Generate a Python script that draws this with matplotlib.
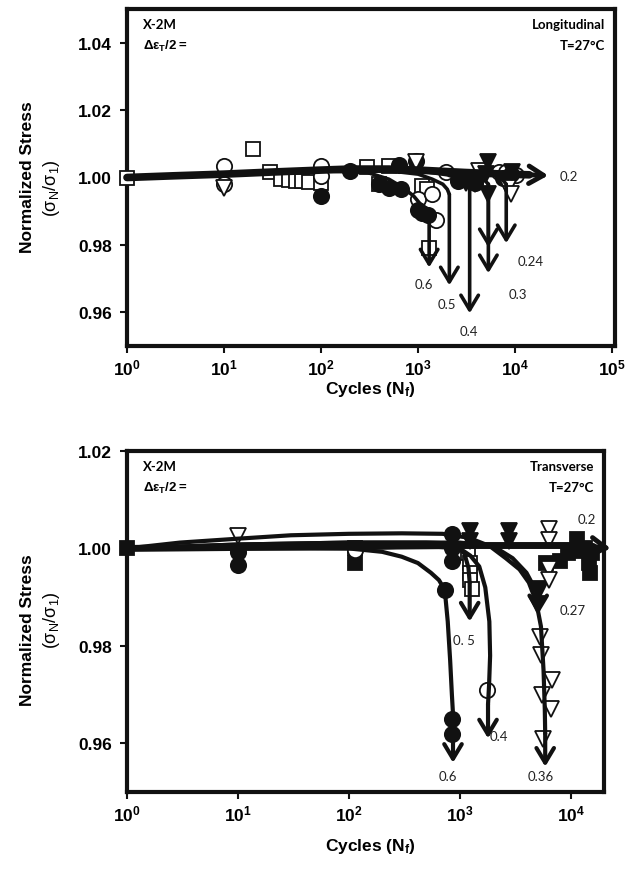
import matplotlib
matplotlib.use('Agg')
import matplotlib.pyplot as plt
from matplotlib.ticker import FixedLocator, FixedFormatter, NullLocator

plt.rcParams['font.family'] = ['Liberation Sans', 'DejaVu Sans']
plt.rcParams['mathtext.fontset'] = 'custom'
plt.rcParams['mathtext.rm'] = 'Liberation Sans'
plt.rcParams['mathtext.bf'] = 'Liberation Sans:bold'
plt.rcParams['mathtext.it'] = 'Liberation Sans:italic'
plt.rcParams['mathtext.fallback'] = 'stixsans'

# ================= Longitudinal (top panel) =================
L_open_sq_N = [1, 20, 30, 39, 47, 55, 64, 75, 100, 300, 400, 500, 1100, 1250, 1300]
L_open_sq_S = [1.000, 1.0086, 1.0015, 0.9997, 0.9993, 0.9991, 0.999, 0.9988, 0.9985,
               1.003, 0.998, 1.0035, 0.9975, 0.9965, 0.979]
L_open_circ_N = [10, 10, 100, 100, 1000, 1400, 1530, 1950, 6800, 8100, 10200]
L_open_circ_S = [1.0035, 0.998, 1.0035, 1.0005, 0.9935, 0.9950, 0.9875, 1.0015, 1.0015, 1.0015, 1.0006]
L_fill_circ_N = [100, 200, 400, 500, 630, 670, 950, 1000, 1100, 1270, 2600, 3900, 7500, 9000]
L_fill_circ_S = [0.9945, 1.002, 0.998, 0.997, 1.0038, 0.9967, 1.005, 0.9905, 0.9896, 0.989,
                 0.999, 0.9985, 1.0, 1.001]
L_open_tri_N = [10, 950, 4200, 8500, 9000]
L_open_tri_S = [0.997, 1.0045, 1.002, 0.997, 0.995]
L_fill_tri_N = [2600, 3100, 3900, 5000, 5300, 5300, 9200]
L_fill_tri_S = [1.0, 0.9985, 0.998, 1.001, 1.0045, 0.995, 1.0015]

# trend curves (knots) per strain amplitude
L_c02_N = [1, 3, 10, 30, 100, 200, 500, 1000, 3000, 8000, 14000, 21900]
L_c02_S = [1.000, 1.0005, 1.001, 1.0016, 1.0022, 1.0025, 1.0025, 1.0022, 1.0015, 1.001, 1.0008, 1.0006]
L_c06_N = [1, 10, 100, 300, 500, 700, 900, 1100, 1250, 1300]
L_c06_S = [1.000, 1.001, 1.002, 1.0015, 0.9995, 0.997, 0.9945, 0.9915, 0.989, 0.988]
L_c05_N = [1, 10, 100, 500, 1000, 1400, 1800, 2000, 2100]
L_c05_S = [1.000, 1.001, 1.002, 1.002, 1.001, 0.9995, 0.998, 0.9965, 0.995]
L_c04_N = [1, 10, 100, 1000, 2000, 2700, 3200, 3400]
L_c04_S = [1.000, 1.001, 1.002, 1.002, 1.0008, 0.9995, 0.998, 0.997]
L_c03_N = [1, 100, 1000, 3000, 4300, 5000, 5300]
L_c03_S = [1.000, 1.002, 1.002, 1.0012, 1.0, 0.9988, 0.998]
L_c024_N = [1, 100, 1000, 4000, 6500, 7600, 8100]
L_c024_S = [1.000, 1.002, 1.002, 1.0014, 1.0005, 0.999, 0.998]

# downward failure arrows: N, start, end
L_arrow_N = [1300, 2100, 3400, 5300, 5300, 8100]
L_arrow_start = [0.988, 0.995, 0.997, 0.998, 0.998, 0.998]
L_arrow_end = [0.9733, 0.968, 0.9597, 0.9793, 0.9716, 0.9805]

L_labels = ['0.2', '0.24', '0.3', '0.4', '0.5', '0.6']
L_label_N = [36000, 14300, 10700, 3300, 2000, 1150]
L_label_S = [1.0005, 0.9751, 0.9654, 0.9545, 0.9625, 0.9685]

# ================= Transverse (bottom panel) =================
T_fill_sq_N = [1, 113, 6000, 8000, 9500, 11500, 12500, 13500, 14500, 15000, 15500]
T_fill_sq_S = [1.000, 0.9971, 0.997, 0.9975, 0.999, 1.002, 0.9995, 1.0, 0.997, 0.995, 0.999]
T_open_sq_N = [113, 1200, 1250, 1250, 1250, 1280]
T_open_sq_S = [1.000, 0.999, 0.997, 0.995, 0.9935, 0.9916]
T_open_circ_N = [113, 1750]
T_open_circ_S = [0.9997, 0.971]
T_fill_circ_N = [10, 10, 860, 860, 860, 733, 860, 860]
T_fill_circ_S = [0.9993, 0.9965, 1.003, 1.0, 0.9975, 0.9915, 0.965, 0.962]
T_fill_tri_N = [1230, 1230, 2800, 2800, 5300, 5000]
T_fill_tri_S = [1.0035, 1.0015, 1.0035, 1.0015, 0.9916, 0.9885]
T_open_tri_N = [10, 6450, 6450, 6450, 6450, 5250, 5400, 6760, 5500, 6600, 5600]
T_open_tri_S = [1.0025, 1.0039, 1.0018, 0.9957, 0.9936, 0.9819, 0.9782, 0.973, 0.970, 0.967, 0.9608]

T_c02_N = [1, 10, 100, 1000, 10000, 16000, 23000]
T_c02_S = [1.000, 1.0002, 1.0004, 1.0006, 1.0006, 1.0004, 1.000]
T_c06_N = [1, 10, 100, 200, 300, 420, 550, 650, 733, 780, 820, 850, 870]
T_c06_S = [1.000, 1.0003, 1.000, 0.9993, 0.9983, 0.997, 0.995, 0.9935, 0.9915, 0.985, 0.977, 0.970, 0.966]
T_c05_N = [1, 10, 100, 500, 900, 1100, 1200, 1230]
T_c05_S = [1.000, 1.0008, 1.0012, 1.0012, 1.001, 0.999, 0.996, 0.993]
T_c04_N = [1, 10, 100, 500, 1000, 1250, 1500, 1700, 1850, 1880, 1840, 1800]
T_c04_S = [1.000, 1.000, 1.000, 1.0005, 1.000, 0.9985, 0.9963, 0.992, 0.985, 0.978, 0.972, 0.968]
T_c036_N = [1, 3, 10, 30, 100, 300, 700, 1200, 1860, 2600, 3460, 4200, 4900, 5400, 5700, 5850, 5900]
T_c036_S = [1.000, 1.0012, 1.002, 1.0027, 1.003, 1.0031, 1.003, 1.0022, 1.0005, 0.998, 0.9957,
            0.993, 0.989, 0.984, 0.975, 0.967, 0.962]
T_c027_N = [1, 10, 100, 1000, 2000, 3000, 4000, 4700, 5100]
T_c027_S = [1.000, 1.0008, 1.0012, 1.0012, 1.0005, 0.998, 0.995, 0.992, 0.990]

T_arrow_N = [870, 1230, 1800, 5900, 5100]
T_arrow_start = [0.966, 0.993, 0.968, 0.962, 0.990]
T_arrow_end = [0.956, 0.985, 0.961, 0.9552, 0.9865]

T_labels = ['0.2', '0.27', '0.36', '0.4', '0. 5', '0.6']
T_label_N = [14000, 10500, 5400, 2250, 1100, 780]
T_label_S = [1.006, 0.9873, 0.9532, 0.9614, 0.9813, 0.9532]

# ================= drawing =================
fig = plt.figure(figsize=(6.39, 8.70), dpi=100)
W, H = 639.0, 870.0


def px_axes(l, t, r, b):
    return fig.add_axes([l / W, 1 - b / H, (r - l) / W, (b - t) / H])


axT = px_axes(127, 10, 615, 347)
axB = px_axes(127, 452, 604, 793)

MEW = 1.3


def markers(ax, N, S, marker, filled):
    ax.plot(N, S, linestyle='none', marker=marker, ms=11 if marker != 's' else 10,
            mfc='#111111' if filled else 'white', mec='#111111', mew=MEW, zorder=3,
            clip_on=False)


def curve(ax, N, S, lw):
    ax.plot(N, S, color='#111111', lw=lw, solid_capstyle='round',
            solid_joinstyle='round', zorder=4, clip_on=False)


ARROW = '->,head_width=0.45,head_length=0.75'


def down_arrow(ax, n, s0, s1, lw=2.6):
    ax.annotate('', xy=(n, s1), xytext=(n, s0),
                arrowprops=dict(arrowstyle=ARROW, lw=lw, color='#111111',
                                shrinkA=0, shrinkB=0, mutation_scale=14),
                zorder=5, annotation_clip=False)


def right_arrow(ax, n0, n1, s0, s1, lw):
    ax.annotate('', xy=(n1, s1), xytext=(n0, s0),
                arrowprops=dict(arrowstyle=ARROW, lw=lw, color='#111111',
                                shrinkA=0, shrinkB=0, mutation_scale=14),
                zorder=5, annotation_clip=False)


def style_axes(ax, xmax, ymin, ymax, yticks, xticks):
    ax.set_xscale('log')
    ax.set_xlim(1, xmax)
    ax.set_ylim(ymin, ymax)
    for sp in ax.spines.values():
        sp.set_linewidth(3)
        sp.set_color('#111111')
    ax.yaxis.set_major_locator(FixedLocator(yticks))
    ax.yaxis.set_major_formatter(FixedFormatter(['%.2f' % v for v in yticks]))
    ax.xaxis.set_major_locator(FixedLocator(xticks))
    ax.xaxis.set_minor_locator(NullLocator())
    ax.xaxis.set_major_formatter(FixedFormatter([r'$\mathbf{10^{%d}}$' % i for i in range(len(xticks))]))
    ax.tick_params(direction='out', length=5, width=1.5, color='#111111',
                   labelsize=12.5, pad=6)
    ax.tick_params(axis='x', pad=3)
    for lab in ax.get_yticklabels():
        lab.set_fontweight('bold')


# ---- top panel ----
markers(axT, L_open_sq_N, L_open_sq_S, 's', False)
markers(axT, L_open_circ_N, L_open_circ_S, 'o', False)
markers(axT, L_fill_circ_N, L_fill_circ_S, 'o', True)
markers(axT, L_open_tri_N, L_open_tri_S, 'v', False)
markers(axT, L_fill_tri_N, L_fill_tri_S, 'v', True)
for cn, cs in [(L_c06_N, L_c06_S), (L_c05_N, L_c05_S), (L_c04_N, L_c04_S),
               (L_c03_N, L_c03_S), (L_c024_N, L_c024_S)]:
    curve(axT, cn, cs, 2.6)
curve(axT, L_c02_N[:-1], L_c02_S[:-1], 5.5)
right_arrow(axT, L_c02_N[-2], L_c02_N[-1], L_c02_S[-2], L_c02_S[-1], 3.5)
for n, s0, s1 in zip(L_arrow_N, L_arrow_start, L_arrow_end):
    down_arrow(axT, n, s0, s1)
for t, n, s in zip(L_labels, L_label_N, L_label_S):
    axT.text(n, s, t, fontsize=9.5, family=['Lato', 'DejaVu Sans'], color='#222222',
             ha='center', va='center')
style_axes(axT, 1.07e5, 0.95, 1.05, [0.96, 0.98, 1.00, 1.02, 1.04],
           [1, 10, 100, 1000, 10000, 100000])

# ---- bottom panel ----
markers(axB, T_fill_sq_N, T_fill_sq_S, 's', True)
markers(axB, T_open_sq_N, T_open_sq_S, 's', False)
markers(axB, T_open_circ_N, T_open_circ_S, 'o', False)
markers(axB, T_fill_circ_N, T_fill_circ_S, 'o', True)
markers(axB, T_fill_tri_N, T_fill_tri_S, 'v', True)
markers(axB, T_open_tri_N, T_open_tri_S, 'v', False)
for cn, cs in [(T_c06_N, T_c06_S), (T_c05_N, T_c05_S), (T_c04_N, T_c04_S),
               (T_c036_N, T_c036_S), (T_c027_N, T_c027_S)]:
    curve(axB, cn, cs, 3.0)
curve(axB, T_c02_N[:-1], T_c02_S[:-1], 5.0)
right_arrow(axB, T_c02_N[-2], T_c02_N[-1], T_c02_S[-2], T_c02_S[-1], 3.5)
for n, s0, s1 in zip(T_arrow_N, T_arrow_start, T_arrow_end):
    down_arrow(axB, n, s0, s1, lw=3)
for t, n, s in zip(T_labels, T_label_N, T_label_S):
    axB.text(n, s, t, fontsize=9.5, family=['Lato', 'DejaVu Sans'], color='#222222',
             ha='center', va='center')
style_axes(axB, 2.0e4, 0.95, 1.02, [0.96, 0.98, 1.00, 1.02],
           [1, 10, 100, 1000, 10000])

# ---- panel annotations ----
for ax, kind in [(axT, 'Longitudinal'), (axB, 'Transverse')]:
    ax.text(0.033, 0.955, 'X-2M', transform=ax.transAxes, fontsize=9.5, fontweight='bold',
            family=['Lato', 'DejaVu Sans'], ha='left', va='center')
    ax.text(0.033, 0.893, r'$\mathbf{\Delta\epsilon_T/2{=}}$', transform=ax.transAxes,
            fontsize=9.5, ha='left', va='center')
    ax.text(0.98, 0.955, kind, transform=ax.transAxes, fontsize=9.5, fontweight='bold',
            family=['Lato', 'DejaVu Sans'], ha='right', va='center')
    ax.text(0.98, 0.893, 'T=27\u00b0C', transform=ax.transAxes, fontsize=9.5, fontweight='bold',
            family=['Lato', 'DejaVu Sans'], ha='right', va='center')

# ---- axis titles ----
for ycen, yc2 in [(177, 188), (630, 620)]:
    fig.text(28 / W, 1 - ycen / H, 'Normalized Stress', rotation=90, fontsize=12.5,
             fontweight='bold', ha='center', va='center')
    fig.text(51 / W, 1 - yc2 / H, r'$(\mathrm{\sigma}_{\mathrm{N}}/\mathrm{\sigma}_{1})$',
             rotation=90, fontsize=13, ha='center', va='center')
for yx in [390, 847]:
    fig.text(370 / W, 1 - yx / H, r'Cycles (N$_{\mathbf{f}}$)', fontsize=12.5,
             fontweight='bold', ha='center', va='center')

fig.savefig('out.png', dpi=100)
